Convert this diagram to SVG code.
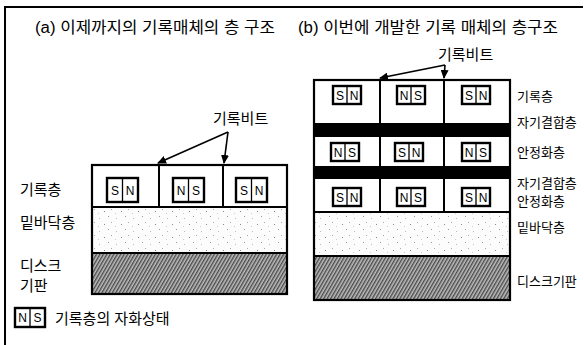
<svg xmlns="http://www.w3.org/2000/svg" width="584" height="345" viewBox="0 0 584 345">
<style>
text{font-family:"Liberation Sans","Noto Sans CJK KR",sans-serif;fill:#000}
.title{font-size:16px}
.lblL{font-size:15px}
.lblR{font-size:13px}
.frame{stroke:#000;stroke-width:2;fill:none}
.box{stroke:#000;stroke-width:2.2;fill:none}
.div{stroke:#000;stroke-width:2}
.mb{stroke:#000;stroke-width:2.4;fill:#fff}
.mid{stroke:#000;stroke-width:1.3}
.mt{font-size:12px;text-anchor:middle}
.arr{stroke:#000;stroke-width:1.6;fill:none;marker-end:url(#ah)}
</style>
<defs>
<marker id="ah" markerWidth="10" markerHeight="8" refX="8" refY="4" orient="auto" markerUnits="userSpaceOnUse">
<path d="M0,0 L9,4 L0,8 z" fill="#000"/>
</marker>
<pattern id="dots" width="17" height="13" patternUnits="userSpaceOnUse">
<rect width="17" height="13" fill="#fcfcfc"/>
<rect x="2" y="3" width="1" height="1" fill="#888"/>
<rect x="9" y="1" width="1" height="1" fill="#aaa"/>
<rect x="6" y="8" width="1" height="1" fill="#999"/>
<rect x="14" y="10" width="1" height="1" fill="#bbb"/>
<rect x="13" y="5" width="1" height="1" fill="#ccc"/>
</pattern>
<pattern id="hatch" width="3" height="3" patternUnits="userSpaceOnUse" patternTransform="rotate(30)">
<rect width="3" height="3" fill="#bdbdbd"/>
<rect x="0" y="0" width="1.4" height="3" fill="#4a4a4a"/>
</pattern>
</defs>

<g id="frame">
<line class="frame" x1="5" y1="7" x2="583" y2="7"/>
<line class="frame" x1="5" y1="6" x2="5" y2="345"/>
</g>

<g id="title-a"><text class="title" x="35" y="33" textLength="240" lengthAdjust="spacingAndGlyphs">(a) 이제까지의 기록매체의 층 구조</text></g>
<g id="title-b"><text class="title" x="298" y="33" textLength="260" lengthAdjust="spacingAndGlyphs">(b) 이번에 개발한 기록 매체의 층구조</text></g>

<!-- (a) structure -->
<g id="a-underlayer"><rect x="92" y="207" width="195" height="46" fill="url(#dots)"/></g>
<g id="a-substrate"><rect x="92" y="253" width="195" height="41" fill="url(#hatch)"/></g>
<g id="a-recording">
<rect x="92" y="165" width="195" height="42" fill="#fff"/>
<line class="div" x1="159" y1="165" x2="159" y2="207"/>
<line class="div" x1="223" y1="165" x2="223" y2="207"/>
</g>
<g id="a-box">
<rect class="box" x="92" y="165" width="195" height="129"/>
<line class="div" x1="92" y1="207" x2="287" y2="207"/>
<line class="div" x1="92" y1="253" x2="287" y2="253"/>
</g>
<g id="a-bit1"><rect class="mb" x="107" y="178" width="31" height="24"/><line class="mid" x1="122.5" y1="178" x2="122.5" y2="202"/><text class="mt" x="115" y="195">S</text><text class="mt" x="130" y="195">N</text></g>
<g id="a-bit2"><rect class="mb" x="173" y="178" width="31" height="24"/><line class="mid" x1="188.5" y1="178" x2="188.5" y2="202"/><text class="mt" x="181" y="195">N</text><text class="mt" x="196" y="195">S</text></g>
<g id="a-bit3"><rect class="mb" x="236" y="178" width="31" height="24"/><line class="mid" x1="251.5" y1="178" x2="251.5" y2="202"/><text class="mt" x="244" y="195">S</text><text class="mt" x="259" y="195">N</text></g>

<g id="a-labels">
<text class="lblL" x="20" y="195">기록층</text>
<text class="lblL" x="20" y="228">밑바닥층</text>
<text class="lblL" x="20" y="271">디스크</text>
<text class="lblL" x="20" y="291">기판</text>
<text class="lblL" x="213" y="124">기록비트</text>
</g>

<!-- (b) structure -->
<g id="b-underlayer"><rect x="314" y="212" width="196" height="44" fill="url(#dots)"/></g>
<g id="b-substrate"><rect x="314" y="256" width="196" height="44" fill="url(#hatch)"/></g>
<g id="b-layers">
<rect x="314" y="80" width="196" height="132" fill="#fff"/>
<rect x="314" y="123" width="196" height="14" fill="#000"/>
<rect x="314" y="166" width="196" height="13" fill="#000"/>
<line class="div" x1="380" y1="80" x2="380" y2="212"/>
<line class="div" x1="444" y1="80" x2="444" y2="212"/>
</g>
<g id="b-box">
<rect class="box" x="314" y="80" width="196" height="220"/>
<line class="div" x1="314" y1="212" x2="510" y2="212"/>
<line class="div" x1="314" y1="256" x2="510" y2="256"/>
</g>
<g id="b-r1c1"><rect class="mb" x="333" y="86" width="28" height="18"/><line class="mid" x1="347" y1="86" x2="347" y2="104"/><text class="mt" x="340" y="100">S</text><text class="mt" x="354" y="100">N</text></g>
<g id="b-r1c2"><rect class="mb" x="397" y="86" width="28" height="18"/><line class="mid" x1="411" y1="86" x2="411" y2="104"/><text class="mt" x="404" y="100">N</text><text class="mt" x="418" y="100">S</text></g>
<g id="b-r1c3"><rect class="mb" x="462" y="86" width="28" height="18"/><line class="mid" x1="476" y1="86" x2="476" y2="104"/><text class="mt" x="469" y="100">S</text><text class="mt" x="483" y="100">N</text></g>
<g id="b-r2c1"><rect class="mb" x="331" y="143" width="28" height="18"/><line class="mid" x1="345" y1="143" x2="345" y2="161"/><text class="mt" x="338" y="157">N</text><text class="mt" x="352" y="157">S</text></g>
<g id="b-r2c2"><rect class="mb" x="395" y="143" width="28" height="18"/><line class="mid" x1="409" y1="143" x2="409" y2="161"/><text class="mt" x="402" y="157">S</text><text class="mt" x="416" y="157">N</text></g>
<g id="b-r2c3"><rect class="mb" x="462" y="143" width="28" height="18"/><line class="mid" x1="476" y1="143" x2="476" y2="161"/><text class="mt" x="469" y="157">N</text><text class="mt" x="483" y="157">S</text></g>
<g id="b-r3c1"><rect class="mb" x="333" y="188" width="28" height="18"/><line class="mid" x1="347" y1="188" x2="347" y2="206"/><text class="mt" x="340" y="202">S</text><text class="mt" x="354" y="202">N</text></g>
<g id="b-r3c2"><rect class="mb" x="397" y="188" width="28" height="18"/><line class="mid" x1="411" y1="188" x2="411" y2="206"/><text class="mt" x="404" y="202">N</text><text class="mt" x="418" y="202">S</text></g>
<g id="b-r3c3"><rect class="mb" x="462" y="188" width="28" height="18"/><line class="mid" x1="476" y1="188" x2="476" y2="206"/><text class="mt" x="469" y="202">S</text><text class="mt" x="483" y="202">N</text></g>

<g id="b-labels">
<text class="lblR" x="517" y="101">기록층</text>
<text class="lblR" x="517" y="127">자기결합층</text>
<text class="lblR" x="517" y="157">안정화층</text>
<text class="lblR" x="517" y="188">자기결합층</text>
<text class="lblR" x="517" y="206">안정화층</text>
<text class="lblR" x="517" y="232">밑바닥층</text>
<text class="lblR" x="517" y="286">디스크기판</text>
<text class="lblL" x="438" y="60">기록비트</text>
</g>

<g id="legend">
<rect class="mb" x="15" y="308" width="30" height="19"/><line class="mid" x1="30" y1="308" x2="30" y2="327"/>
<text class="mt" x="22.5" y="322">N</text><text class="mt" x="37.5" y="322">S</text>
<text class="lblL" x="55" y="324">기록층의 자화상태</text>
</g>

<g id="connectors">
<line class="arr" x1="228" y1="132" x2="158" y2="163"/>
<line class="arr" x1="228" y1="132" x2="224" y2="163"/>
<line class="arr" x1="445" y1="65" x2="380" y2="78"/>
<line class="arr" x1="445" y1="65" x2="444" y2="78"/>
</g>
</svg>
